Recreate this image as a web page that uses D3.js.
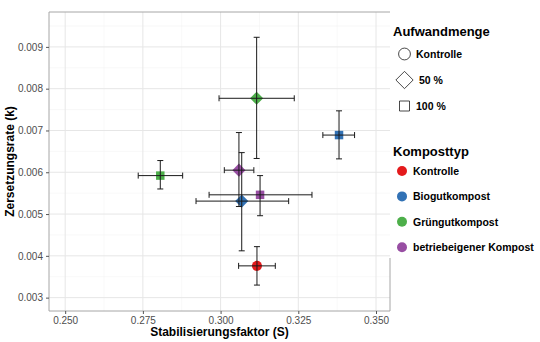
<!DOCTYPE html>
<html>
<head>
<meta charset="utf-8">
<script src="https://cdn.jsdelivr.net/npm/d3@7"></script>
<style>
  body { margin: 0; background: #fff; }
  text { font-family: "Liberation Sans", Arial, sans-serif; }
</style>
</head>
<body>
<script>
var w = 540;
var h = 342;

// data
var kompost = ['Kontrolle', 'Biogutkompost', 'Biogutkompost', 'Grüngutkompost', 'Grüngutkompost', 'betriebeigener Kompost', 'betriebeigener Kompost'];
var aufwand = ['Kontrolle', '50 %', '100 %', '50 %', '100 %', '50 %', '100 %'];
var sVal = [0.3117, 0.3068, 0.3381, 0.3116, 0.2806, 0.3059, 0.3127];
var sLo = [0.3058, 0.2921, 0.3329, 0.2995, 0.2735, 0.3012, 0.2963];
var sHi = [0.3176, 0.3219, 0.3431, 0.3237, 0.2878, 0.3107, 0.3294];
var kVal = [0.00376, 0.00531, 0.00689, 0.00777, 0.00592, 0.00605, 0.00546];
var kLo = [0.00330, 0.00412, 0.00632, 0.00633, 0.00560, 0.00518, 0.00496];
var kHi = [0.00422, 0.00647, 0.00747, 0.00923, 0.00628, 0.00695, 0.00592];

var typNames = ['Kontrolle', 'Biogutkompost', 'Grüngutkompost', 'betriebeigener Kompost'];
var typColors = ['#E41A1C', '#3272B5', '#4DAF4A', '#984EA3'];
var aufNames = ['Kontrolle', '50 %', '100 %'];
var xTicks = [0.250, 0.275, 0.300, 0.325, 0.350];
var yTicks = [0.003, 0.004, 0.005, 0.006, 0.007, 0.008, 0.009];

var rows = sVal.map(function(d, i) {
  return {typ: kompost[i], auf: aufwand[i], s: d, sLo: sLo[i], sHi: sHi[i], k: kVal[i], kLo: kLo[i], kHi: kHi[i]};
});

var m = {l: 49, t: 12, r: 390, b: 311};

var x = d3.scaleLinear().domain([0.2448, 0.3545]).range([m.l, m.r]);
var y = d3.scaleLinear().domain([0.00268, 0.009835]).range([m.b, m.t]);
var color = d3.scaleOrdinal().domain(typNames).range(typColors);
var shape = d3.scaleOrdinal().domain(aufNames).range([d3.symbolCircle, d3.symbolDiamond2, d3.symbolSquare]);
var shapeSize = d3.scaleOrdinal().domain(aufNames).range([80, 110, 72]);
var legendSize = d3.scaleOrdinal().domain(aufNames).range([110, 190, 100]);

var svg = d3.select('body').append('svg')
  .attr('width', w)
  .attr('height', h);

// minor grid
var xMinor = [0.2625, 0.2875, 0.3125, 0.3375];
var yMinor = [0.0035, 0.0045, 0.0055, 0.0065, 0.0075, 0.0085, 0.0095];
svg.selectAll('.xminor').data(xMinor).enter().append('line')
  .attr('x1', d => x(d)).attr('x2', d => x(d)).attr('y1', m.t).attr('y2', m.b)
  .attr('stroke', '#f3f3f3').attr('stroke-width', 0.6);
svg.selectAll('.yminor').data(yMinor).enter().append('line')
  .attr('y1', d => y(d)).attr('y2', d => y(d)).attr('x1', m.l).attr('x2', m.r)
  .attr('stroke', '#f3f3f3').attr('stroke-width', 0.6);

// major grid
svg.selectAll('.xgrid').data(xTicks).enter().append('line')
  .attr('x1', d => x(d)).attr('x2', d => x(d)).attr('y1', m.t).attr('y2', m.b)
  .attr('stroke', '#e6e6e6').attr('stroke-width', 1);
svg.selectAll('.ygrid').data(yTicks).enter().append('line')
  .attr('y1', d => y(d)).attr('y2', d => y(d)).attr('x1', m.l).attr('x2', m.r)
  .attr('stroke', '#e6e6e6').attr('stroke-width', 1);

// panel border (legend box hides the upper right edge)
var border = svg.append('g').attr('stroke', '#a6a6a6').attr('stroke-width', 1).attr('fill', 'none');
border.append('path').attr('d', `M ${m.r} ${258} V ${m.b} H ${m.l} V ${m.t} H ${m.r}`);

// axes
var xAxis = svg.append('g')
  .attr('transform', `translate(0,${m.b})`)
  .call(d3.axisBottom(x).tickValues(xTicks).tickFormat(d3.format('.3f')).tickSize(3).tickPadding(3));
var yAxis = svg.append('g')
  .attr('transform', `translate(${m.l},0)`)
  .call(d3.axisLeft(y).tickValues(yTicks).tickFormat(d3.format('.3f')).tickSize(3).tickPadding(3));
[xAxis, yAxis].forEach(function(a) {
  a.select('.domain').remove();
  a.selectAll('.tick line').attr('stroke', '#555');
  a.selectAll('.tick text').attr('fill', '#4d4d4d').style('font-size', '10px').style('font-family', '"Liberation Sans", Arial, sans-serif');
});

// points
svg.selectAll('.pt').data(rows).enter().append('path')
  .attr('transform', d => `translate(${x(d.s)},${y(d.k)})`)
  .attr('d', d => d3.symbol().type(shape(d.auf)).size(shapeSize(d.auf))())
  .attr('fill', d => color(d.typ));

// error bars
var eb = svg.append('g').attr('stroke', '#1a1a1a').attr('stroke-width', 1).attr('fill', 'none');
var cap = 3;
rows.forEach(function(d) {
  var cx = x(d.s), cy = y(d.k);
  eb.append('path').attr('d',
    `M ${x(d.sLo)} ${cy} H ${x(d.sHi)} M ${x(d.sLo)} ${cy-cap} V ${cy+cap} M ${x(d.sHi)} ${cy-cap} V ${cy+cap}`);
  eb.append('path').attr('d',
    `M ${cx} ${y(d.kLo)} V ${y(d.kHi)} M ${cx-cap} ${y(d.kLo)} H ${cx+cap} M ${cx-cap} ${y(d.kHi)} H ${cx+cap}`);
});

// axis titles
svg.append('text')
  .attr('x', (m.l + m.r) / 2).attr('y', 336)
  .attr('text-anchor', 'middle')
  .style('font-size', '12px').style('font-weight', 'bold')
  .text('Stabilisierungsfaktor (S)');
svg.append('text')
  .attr('transform', `translate(14,${(m.t + m.b) / 2}) rotate(-90)`)
  .attr('text-anchor', 'middle')
  .style('font-size', '12px').style('font-weight', 'bold')
  .text('Zersetzungsrate (k)');

// legend: Aufwandmenge
var lg1 = svg.append('g');
lg1.append('text').attr('x', 393).attr('y', 36)
  .style('font-size', '13px').style('font-weight', 'bold').text('Aufwandmenge');
aufNames.forEach(function(n, i) {
  var ly = 54 + i * 26;
  lg1.append('path')
    .attr('transform', `translate(404.5,${ly})`)
    .attr('d', d3.symbol().type(shape(n)).size(legendSize(n))())
    .attr('fill', 'none').attr('stroke', '#1a1a1a').attr('stroke-width', 0.8);
  lg1.append('text').attr('x', 416).attr('y', ly + 4)
    .style('font-size', '10.5px').style('font-weight', 'bold')
    .text(n === '50 %' ? '\u00a050 %' : n);
});

// legend: Komposttyp
var lg2 = svg.append('g');
lg2.append('text').attr('x', 393).attr('y', 156)
  .style('font-size', '13px').style('font-weight', 'bold').text('Komposttyp');
typNames.forEach(function(n, i) {
  var ly = 171 + i * 25.4;
  lg2.append('circle').attr('cx', 402).attr('cy', ly).attr('r', 5).attr('fill', color(n));
  lg2.append('text').attr('x', 413).attr('y', ly + 4)
    .style('font-size', '10.5px').style('font-weight', 'bold').text(n);
});
</script>
</body>
</html>
